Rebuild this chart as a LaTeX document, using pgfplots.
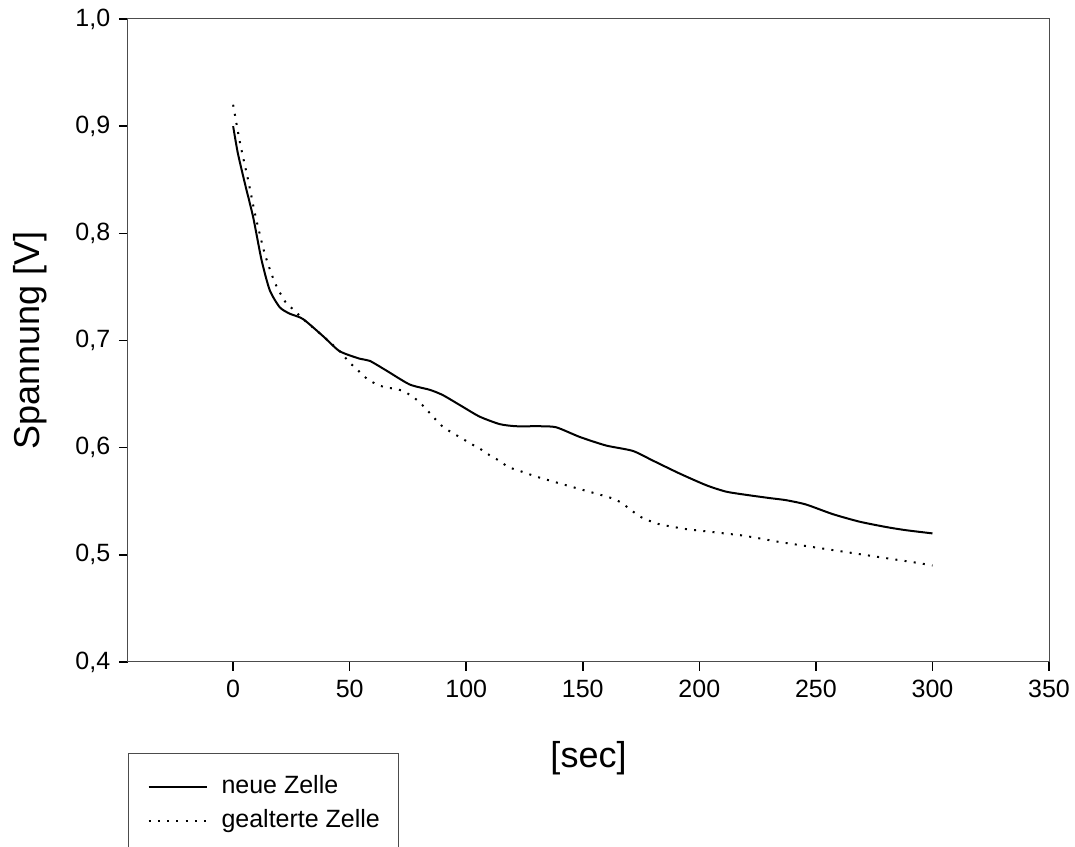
\documentclass[border=0pt]{standalone}
\usepackage{fontspec}
\setmainfont{Liberation Sans}
\usepackage{pgfplots}
\pgfplotsset{compat=1.18}

\begin{document}
\begin{tikzpicture}
\begin{axis}[
    scale only axis,
    width=368.4pt, height=257.2pt,
    xmin=-45.1, xmax=350, ymin=0.4, ymax=1.0,
    xtick={0,50,100,150,200,250,300,350},
    ytick={0.4,0.5,0.6,0.7,0.8,0.9,1.0},
    tick align=outside, major tick length=3.6pt,
    xtick pos=bottom, ytick pos=left,
    axis line style={black!70},
    every tick/.style={black, line width=0.6pt},
    tick label style={font=\fontsize{10}{12}\selectfont},
    /pgf/number format/assume math mode=true,
    yticklabel style={/pgf/number format/.cd, fixed, fixed zerofill, precision=1, use comma},
    xticklabel style={/pgf/number format/.cd, fixed, precision=0},
    xlabel={[sec]}, ylabel={Spannung [V]},
    label style={font=\fontsize{14.4}{16}\selectfont},
    xlabel style={at={(axis description cs:0.5,-0.1493)}, anchor=center},
    ylabel style={at={(axis description cs:-0.1064,0.5)}, anchor=center},
    legend cell align=left,
    legend image code/.code={\draw[#1] (0pt,0pt) -- (23.2pt,0pt);},
    legend style={at={(axis description cs:0,-0.1415)}, anchor=north west,
        draw=black!70, font=\fontsize{10}{12}\selectfont,
        inner xsep=7.6pt, inner ysep=9pt, row sep=4.6pt, column sep=5.6pt,
        nodes={inner sep=0pt, text height=7pt, text depth=2pt}},
]
% neue Zelle
\addplot[black, line width=0.8pt, smooth, tension=0.4] coordinates {
(0,0.900) (2,0.875) (5,0.847) (8.6,0.815) (12.2,0.775) (15.7,0.747) (20,0.731) (24.3,0.725) (30,0.720) (38.6,0.704) (45.7,0.690) (54.3,0.683) (58.6,0.681) (65.7,0.672) (75.7,0.659) (84.3,0.654) (90,0.649) (98.6,0.638) (105.7,0.629) (114.3,0.622) (121.4,0.620) (131.4,0.620) (138.6,0.619) (148.7,0.610) (160,0.602) (171.4,0.597) (180,0.588) (191.4,0.576) (202.9,0.565) (211.4,0.559) (220,0.556) (230,0.553) (237.2,0.551) (245.7,0.547) (257.2,0.538) (268.6,0.531) (280,0.526) (288.6,0.523) (300,0.520)
};
\addlegendentry{neue Zelle}
% gealterte Zelle
\addplot[black, line width=0.8pt, dash pattern=on 0.8pt off 2.9pt, smooth, tension=0.4] coordinates {
(0,0.920) (2.9,0.885) (6.4,0.850) (9.7,0.815) (13.7,0.780) (17.9,0.754) (22.4,0.736) (26.3,0.728) (30,0.720) (38.6,0.704) (45.7,0.690) (49.7,0.680) (53.6,0.672) (57.6,0.664) (61.7,0.659) (65.7,0.656) (69.7,0.655) (73.7,0.652) (78,0.646) (82,0.638) (85.7,0.629) (89.7,0.620) (93.9,0.614) (97.9,0.609) (101.7,0.604) (105.9,0.599) (110,0.593) (114,0.588) (118,0.582) (122,0.579) (126,0.576) (130,0.573) (137.9,0.568) (146,0.563) (154.3,0.558) (162.2,0.553) (166.2,0.549) (170,0.543) (174.3,0.536) (178.3,0.532) (182.1,0.529) (186.4,0.527) (194.3,0.524) (202.6,0.522) (210.7,0.520) (218.6,0.518) (226.7,0.515) (234.3,0.512) (246.4,0.508) (258.6,0.504) (270.7,0.500) (282.9,0.496) (295,0.492) (300,0.490)
};
\addlegendentry{gealterte Zelle}
\end{axis}
\pgfresetboundingbox
\useasboundingbox (-51.2pt,-74pt) rectangle (378.8pt,264.8pt);
\end{tikzpicture}
\end{document}
